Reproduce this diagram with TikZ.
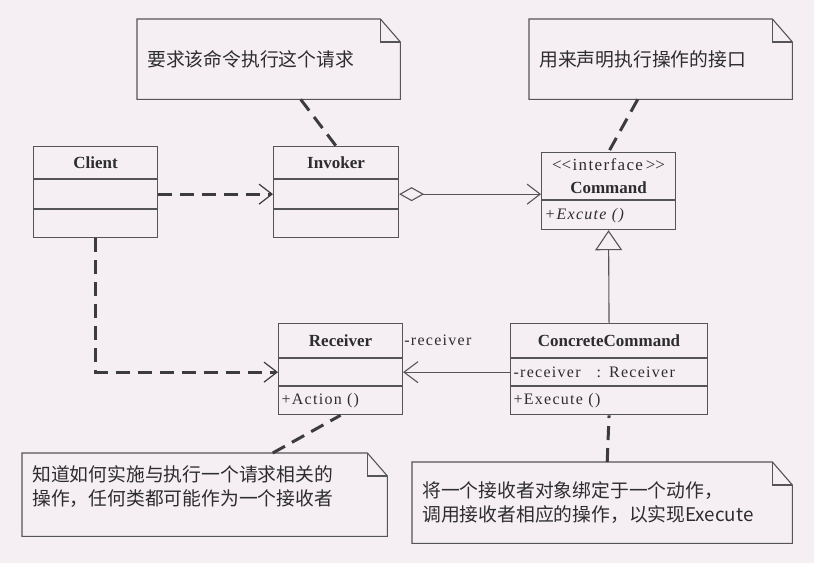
\documentclass[tikz,border=0pt]{standalone}
\usepackage{fontspec}
\setmainfont{Liberation Serif}
\newfontfamily\memberfont[LetterSpace=8]{Liberation Serif}
\newfontfamily\cjk{Noto Sans CJK SC}
\usetikzlibrary{arrows.meta}
\definecolor{pagebg}{RGB}{245,239,244}
\definecolor{umlgray}{RGB}{85,85,85}
\definecolor{dashgray}{RGB}{60,60,60}
\definecolor{inkgray}{RGB}{45,45,45}

\tikzset{
  classrow/.style={draw=umlgray, line width=1.1pt, inner xsep=3pt, inner ysep=0pt,
    anchor=north west, text=inkgray, align=left,
    font=\memberfont\fontsize{16pt}{19pt}\selectfont},
  classname/.style={classrow, align=center,
    font=\fontsize{17pt}{21pt}\selectfont\bfseries},
  memo/.style={anchor=north west, inner xsep=10pt, inner ysep=0pt, align=left,
    text=inkgray, font=\cjk\fontsize{18.8pt}{24pt}\selectfont},
  memoline/.style={draw=umlgray, line width=1.1pt},
  notelink/.style={draw=dashgray, line width=3pt, dash pattern=on 14pt off 8pt},
  depend/.style={notelink, -{Straight Barb[length=13pt,width=20pt,line width=1.2pt]}},
  aggregate/.style={draw=umlgray, line width=1.1pt,
    {Diamond[open,length=25pt,width=14pt]}-{Straight Barb[length=13pt,width=20pt]}},
  associate/.style={draw=umlgray, line width=1.1pt, -{Straight Barb[length=14pt,width=21pt]}},
  generalize/.style={draw=umlgray, line width=1.1pt, -{Triangle[open,length=20pt,width=27pt]}},
  rolelabel/.style={anchor=west, inner sep=1pt, text=inkgray,
    font=\memberfont\fontsize{16pt}{19pt}\selectfont}
}

% dog-eared outline round a note node
\newcommand{\notefold}[1]{%
  \draw[memoline] (#1.north west) -- ([xshift=-20pt]#1.north east)
    -- ([yshift=-23pt]#1.north east) -- (#1.south east) -- (#1.south west) -- cycle;
  \draw[memoline] ([xshift=-20pt]#1.north east) |- ([yshift=-23pt]#1.north east);}

\begin{document}
\begin{tikzpicture}[x=1pt,y=-1pt]
% page
\fill[pagebg] (0,0) rectangle (814,563);
\useasboundingbox (0,0) rectangle (814,563);

% Client
\node[classname, text width=118pt, minimum height=32pt] (client) at (33,146) {Client};
\node[classrow, text width=118pt, minimum height=29pt] (clientattr) at (client.south west) {};
\node[classrow, text width=118pt, minimum height=28pt] (clientops) at (clientattr.south west) {};
% Invoker
\node[classname, text width=119pt, minimum height=32pt] (invoker) at (273,146) {Invoker};
\node[classrow, text width=119pt, minimum height=29pt] (invokerattr) at (invoker.south west) {};
\node[classrow, text width=119pt, minimum height=28pt] (invokerops) at (invokerattr.south west) {};
% Command
\node[classname, text width=128pt, minimum height=47pt,
      font=\fontsize{17pt}{23pt}\selectfont\bfseries] (command) at (541,152)
  {{\memberfont\mdseries\fontsize{17pt}{23pt}\selectfont <\kern0pt<interface\,>\kern0pt>}\\Command};
\node[classrow, text width=128pt, minimum height=29pt] (commandops) at (command.south west) {\itshape +Excute ()};
% Receiver
\node[classname, text width=118pt, minimum height=34pt] (receiver) at (278,323) {Receiver};
\node[classrow, text width=118pt, minimum height=27pt] (receiverattr) at (receiver.south west) {};
\node[classrow, text width=118pt, minimum height=28pt] (receiverops) at (receiverattr.south west) {+Action ()};
% ConcreteCommand
\node[classname, text width=191pt, minimum height=34pt] (concrete) at (510,323) {ConcreteCommand};
\node[classrow, text width=191pt, minimum height=27pt] (concreteattr) at (concrete.south west) {-receiver\quad:\enspace Receiver};
\node[classrow, text width=191pt, minimum height=28pt] (concreteops) at (concreteattr.south west) {+Execute ()};

% notes
\node[memo, text width=243pt, minimum height=80pt] (invokernote) at (137,19) {要求该命令执行这个请求};
\notefold{invokernote}
\node[memo, text width=243pt, minimum height=80pt] (commandnote) at (529,19) {用来声明执行操作的接口};
\notefold{commandnote}
\node[memo, text width=345pt, minimum height=83pt] (receivernote) at (22,453)
  {知道如何实施与执行一个请求相关的\\操作，任何类都可能作为一个接收者\\[-6pt]\mbox{}};
\notefold{receivernote}
\node[memo, text width=360pt, minimum height=81pt] (concretenote) at (412,462)
  {将一个接收者对象绑定于一个动作，\\调用接收者相应的操作，以实现Execute};
\notefold{concretenote}

% relations
\draw[depend] (clientattr.east) -- (invokerattr.west);
\draw[depend] (clientops.south) |- (receiverattr.west);
\draw[aggregate] (invokerattr.east) -- (invokerattr.east -| command.west);
\draw[generalize] (concrete.north) -- (commandops.south);
\draw[associate] (concreteattr.west) -- (receiverattr.east);
\node[rolelabel] (receiverrole) at (receiver.east) {-receiver};

% note links
\draw[notelink] ([xshift=32pt]invokernote.south) -- (invoker.north);
\draw[notelink] ([xshift=-23pt]commandnote.south) -- (command.north);
\draw[notelink] ([xshift=68pt]receivernote.north) -- (receiverops.south);
\draw[notelink] ([xshift=5pt]concretenote.north) -- (concreteops.south);
\end{tikzpicture}
\end{document}
